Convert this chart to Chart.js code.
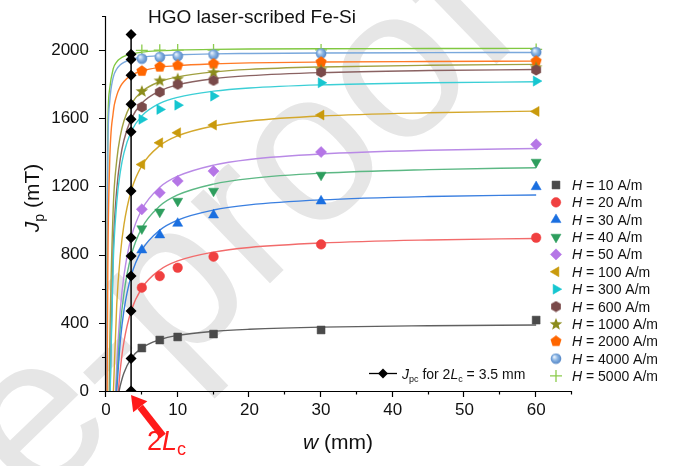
<!DOCTYPE html>
<html>
<head>
<meta charset="utf-8">
<script src="https://cdn.jsdelivr.net/npm/chart.js@4.4.0/dist/chart.umd.min.js"></script>
<style>
  html, body { margin: 0; padding: 0; background: #fff; }
  canvas { display: block; }
</style>
</head>
<body>
<canvas id="jpChart" width="682" height="466"></canvas>
<script>
// --- DATA ---
const fieldLabels = ['10', '20', '30', '40', '50', '100', '300', '600', '1000', '2000', '4000', '5000'];
const markerW = [5, 7.5, 10, 15, 30, 60];

const jpH10   = [252, 299, 317, 334, 358, 416];
const jpH20   = [606, 674, 723, 788, 860, 899];
const jpH30   = [827, 915, 983, 1032, 1114, 1198];
const jpH40   = [952, 1050, 1114, 1173, 1267, 1343];
const jpH50   = [1066, 1163, 1232, 1290, 1402, 1447];
const jpH100  = [1329, 1456, 1515, 1560, 1619, 1640];
const jpH300  = [1594, 1652, 1677, 1730, 1808, 1818];
const jpH600  = [1666, 1754, 1799, 1822, 1871, 1883];
const jpH1000 = [1760, 1822, 1833, 1871, 1886, 1900];
const jpH2000 = [1877, 1902, 1910, 1920, 1930, 1935];
const jpH4000 = [1950, 1959, 1965, 1974, 1980, 1988];
const jpH5000 = [1998, 1999, 2000, 2000, 2001, 2004];

// fitted curves, sampled at fitW (null = below zero), each starts at its zero crossing
const fitW = [0.25, 0.5, 1, 1.5, 2, 2.5, 3.5, 5, 7.5, 10, 15, 20, 30, 45, 60];
const fitZero = [1.83, 1.72, 1.5, 1.43, 1.34, 1.04, 0.59, 0.57, 0.45, 0.16, 0.075, 0.06];
const fitH10   = [null, null, null, null, 33, 106, 190, 253, 301, 326, 350, 362, 375, 383, 387];
const fitH20   = [null, null, null, null, 129, 288, 469, 604, 710, 763, 815, 842, 868, 886, 895];
const fitH30   = [null, null, null, null, 295, 472, 674, 826, 944, 1003, 1062, 1092, 1121, 1141, 1150];
const fitH40   = [null, null, null, 59, 379, 572, 792, 957, 1085, 1150, 1214, 1246, 1278, 1299, 1310];
const fitH50   = [null, null, null, 156, 481, 676, 899, 1065, 1195, 1260, 1325, 1358, 1390, 1412, 1423];
const fitH100  = [null, null, null, 509, 799, 974, 1173, 1322, 1439, 1497, 1555, 1584, 1613, 1632, 1642];
const fitH300  = [null, null, 743, 1106, 1287, 1396, 1521, 1614, 1687, 1723, 1759, 1778, 1796, 1808, 1814];
const fitH600  = [null, null, 822, 1183, 1363, 1471, 1595, 1688, 1760, 1796, 1832, 1850, 1868, 1880, 1886];
const fitH1000 = [null, 198, 1064, 1353, 1497, 1584, 1683, 1757, 1815, 1843, 1872, 1887, 1901, 1911, 1916];
const fitH2000 = [704, 1322, 1631, 1734, 1786, 1816, 1852, 1878, 1899, 1909, 1919, 1925, 1930, 1933, 1935];
const fitH4000 = [1392, 1690, 1839, 1889, 1914, 1928, 1945, 1958, 1968, 1973, 1978, 1980, 1983, 1985, 1986];
const fitH5000 = [1524, 1768, 1890, 1931, 1951, 1963, 1977, 1988, 1996, 2000, 2004, 2006, 2008, 2009, 2010];

// J_pc at 2Lc = 3.5 mm
const jpcW = 3.5;
const jpcValues = [0, 190, 469, 674, 792, 899, 1173, 1521, 1595, 1683, 1852, 1945, 1975, 2092];

const xTicks = [0, 10, 20, 30, 40, 50, 60];
const yTicks = [0, 400, 800, 1200, 1600, 2000];

const seriesJp = [jpH10, jpH20, jpH30, jpH40, jpH50, jpH100, jpH300, jpH600, jpH1000, jpH2000, jpH4000, jpH5000];
const seriesFit = [fitH10, fitH20, fitH30, fitH40, fitH50, fitH100, fitH300, fitH600, fitH1000, fitH2000, fitH4000, fitH5000];

// --- STYLES ---
const FONT = '"Liberation Sans", Arial, Helvetica, sans-serif';
const markColors = ['#4a4a4a', '#f04040', '#1a6fe0', '#2e9e5e', '#b576e6', '#c99a0c',
                    '#16c6d0', '#7a4a4a', '#8c8c1c', '#ff6600', '#6a9fd8', '#8ccc4c'];
const lineColors = ['#606060', '#f26b6b', '#3a7fe0', '#5cb884', '#b98ae6', '#d4a82c',
                    '#3ccfd6', '#8a6262', '#a0a040', '#ff7a26', '#7aa8dc', '#80c840'];

function shapeCanvas(size, draw) {
    const c = document.createElement('canvas');
    c.width = c.height = size;
    draw(c.getContext('2d'), size / 2);
    return c;
}
function polygon(g, m, n, r, start) {
    g.beginPath();
    for (let i = 0; i < n; i++) {
        const a = start + i * 2 * Math.PI / n;
        g.lineTo(m + r * Math.cos(a), m + r * Math.sin(a));
    }
    g.closePath();
    g.fill();
}
const hexagon = shapeCanvas(12, (g, m) => { g.fillStyle = markColors[7]; polygon(g, m, 6, 5.6, Math.PI / 6); });
const pentagon = shapeCanvas(12, (g, m) => { g.fillStyle = markColors[9]; polygon(g, m, 5, 5.8, -Math.PI / 2); });
const star = shapeCanvas(14, (g, m) => {
    g.fillStyle = markColors[8];
    g.beginPath();
    for (let i = 0; i < 10; i++) {
        const a = -Math.PI / 2 + i * Math.PI / 5;
        const r = i % 2 ? 2.8 : 6.6;
        g.lineTo(m + r * Math.cos(a), m + r * Math.sin(a) + 0.5);
    }
    g.closePath();
    g.fill();
});
const sphere = shapeCanvas(12, (g, m) => {
    const grad = g.createRadialGradient(m - 1.8, m - 1.8, 0.5, m, m, 5.5);
    grad.addColorStop(0, '#e6f0fb');
    grad.addColorStop(0.45, '#8cb6e4');
    grad.addColorStop(1, '#4f82c4');
    g.fillStyle = grad;
    g.beginPath(); g.arc(m, m, 5.3, 0, Math.PI * 2); g.fill();
});

const markStyles = [
    { pointStyle: 'rect', rotation: 0, radius: 5.6 },
    { pointStyle: 'circle', rotation: 0, radius: 4.8 },
    { pointStyle: 'triangle', rotation: 0, radius: 5.8 },
    { pointStyle: 'triangle', rotation: 180, radius: 5.8 },
    { pointStyle: 'rectRot', rotation: 0, radius: 5.6 },
    { pointStyle: 'triangle', rotation: -90, radius: 5.8 },
    { pointStyle: 'triangle', rotation: 90, radius: 5.8 },
    { pointStyle: hexagon, rotation: 0, radius: 5.5 },
    { pointStyle: star, rotation: 0, radius: 6 },
    { pointStyle: pentagon, rotation: 0, radius: 5.5 },
    { pointStyle: sphere, rotation: 0, radius: 5.5 },
    { pointStyle: 'cross', rotation: 0, radius: 6 }
];

// --- DATASETS ---
const markerSets = seriesJp.map((vals, i) => ({
    label: 'H = ' + fieldLabels[i] + ' A/m',
    data: vals.map((v, k) => ({ x: markerW[k], y: v })),
    showLine: false,
    pointStyle: markStyles[i].pointStyle,
    pointRotation: markStyles[i].rotation,
    pointRadius: markStyles[i].radius,
    backgroundColor: markColors[i],
    borderColor: markColors[i],
    pointBorderWidth: i === 11 ? 1.3 : 0.5
}));

const fitSets = seriesFit.map((vals, i) => {
    const pts = [{ x: fitZero[i], y: 0 }];
    vals.forEach((v, k) => { if (v !== null) pts.push({ x: fitW[k], y: v }); });
    return {
        label: 'fit ' + fieldLabels[i],
        data: pts,
        showLine: true,
        pointRadius: 0,
        borderColor: lineColors[i],
        borderWidth: 1.4,
        cubicInterpolationMode: 'monotone'
    };
});

const jpcSet = {
    label: 'Jpc',
    data: jpcValues.map(v => ({ x: jpcW, y: v })),
    showLine: true,
    borderColor: '#000',
    borderWidth: 1.5,
    pointStyle: 'rectRot',
    pointRadius: 5.5,
    backgroundColor: '#000',
    pointBorderWidth: 0
};

// --- DRAW HELPERS ---
function richText(ctx, parts, x, y, align) {
    let w = 0;
    parts.forEach(p => { ctx.font = p[1]; w += ctx.measureText(p[0]).width; });
    let cx = align === 'center' ? x - w / 2 : x;
    parts.forEach(p => {
        ctx.font = p[1];
        ctx.fillText(p[0], cx, y + (p[2] || 0));
        cx += ctx.measureText(p[0]).width;
    });
}

const watermark = {
    id: 'watermark',
    beforeDraw(chart) {
        const ctx = chart.ctx;
        ctx.save();
        ctx.fillStyle = '#fff';
        ctx.fillRect(0, 0, chart.width, chart.height);
        const em = 215;
        ctx.font = em + 'px ' + FONT;
        ctx.fillStyle = '#e6e6e6';
        ctx.translate(315, 162);
        ctx.rotate(-44 * Math.PI / 180);
        const off = ctx.measureText('Journal Pre-pr').width + ctx.measureText('o').width / 2;
        ctx.textBaseline = 'alphabetic';
        ctx.fillText('Journal Pre-proof', -off, 0.26 * em);
        ctx.restore();
    }
};

const decorations = {
    id: 'decorations',
    afterDraw(chart) {
        const ctx = chart.ctx;
        const xs = chart.scales.x, ys = chart.scales.y;
        ctx.save();

        // axes + ticks
        ctx.strokeStyle = '#000';
        ctx.lineWidth = 1.2;
        ctx.beginPath();
        ctx.moveTo(xs.left - 0.5, ys.bottom + 0.5);
        ctx.lineTo(xs.right, ys.bottom + 0.5);
        ctx.moveTo(xs.left - 0.5, ys.top);
        ctx.lineTo(xs.left - 0.5, ys.bottom + 0.5);
        for (let v = 0; v <= xs.max; v += 5) {
            const px = Math.round(xs.getPixelForValue(v)) - 0.5;
            const len = xTicks.includes(v) ? 6 : 3.5;
            ctx.moveTo(px, ys.bottom); ctx.lineTo(px, ys.bottom + len);
        }
        for (let v = 0; v <= ys.max; v += 200) {
            const py = Math.round(ys.getPixelForValue(v)) + 0.5;
            const len = yTicks.includes(v) ? 7 : 4;
            ctx.moveTo(xs.left, py); ctx.lineTo(xs.left - len, py);
        }
        ctx.stroke();

        ctx.fillStyle = '#111';
        ctx.textBaseline = 'alphabetic';
        // title inside plot
        richText(ctx, [['HGO laser-scribed Fe-Si', '19px ' + FONT]], 252, 23, 'center');
        // x-axis title
        richText(ctx, [['w', 'italic 21px ' + FONT], [' (mm)', '21px ' + FONT]], 338, 449, 'center');
        // y-axis title
        ctx.save();
        ctx.translate(39, 198);
        ctx.rotate(-Math.PI / 2);
        richText(ctx, [['J', 'italic 21px ' + FONT], ['p', '14px ' + FONT, 5], [' (mT)', '21px ' + FONT]], 0, 0, 'center');
        ctx.restore();

        // legend of field values
        const rowH = 17.36;
        markerSets.forEach((ds, i) => {
            const y = 185 + i * rowH;
            ctx.fillStyle = markColors[i];
            ctx.strokeStyle = markColors[i];
            ctx.lineWidth = i === 11 ? 1.3 : 0.5;
            Chart.helpers.drawPoint(ctx, {
                pointStyle: markStyles[i].pointStyle,
                rotation: markStyles[i].rotation,
                radius: markStyles[i].radius,
                borderWidth: ctx.lineWidth
            }, 556, y);
            ctx.fillStyle = '#111';
            richText(ctx, [['H', 'italic 14px ' + FONT], [' = ' + fieldLabels[i] + ' A/m', '14px ' + FONT]], 572, y + 5);
        });

        // J_pc legend entry
        ctx.strokeStyle = '#000';
        ctx.lineWidth = 1.3;
        ctx.beginPath(); ctx.moveTo(369, 373.5); ctx.lineTo(397, 373.5); ctx.stroke();
        ctx.fillStyle = '#000';
        Chart.helpers.drawPoint(ctx, { pointStyle: 'rectRot', rotation: 0, radius: 5, borderWidth: 0 }, 383, 373.5);
        ctx.fillStyle = '#111';
        richText(ctx, [
            ['J', 'italic 14px ' + FONT], ['pc', '9px ' + FONT, 3],
            [' for 2', '14px ' + FONT], ['L', 'italic 14px ' + FONT], ['c', '9px ' + FONT, 3],
            [' = 3.5 mm', '14px ' + FONT]
        ], 402, 378.5);

        // red arrow pointing at 2Lc
        const red = '#ff1a1a';
        const tip = { x: 131, y: 395 }, tail = { x: 163, y: 436 };
        const ang = Math.atan2(tip.y - tail.y, tip.x - tail.x);
        const headLen = 15, headW = 9;
        const bx = tip.x - headLen * Math.cos(ang), by = tip.y - headLen * Math.sin(ang);
        ctx.strokeStyle = red;
        ctx.lineWidth = 7;
        ctx.beginPath(); ctx.moveTo(tail.x, tail.y); ctx.lineTo(bx, by); ctx.stroke();
        ctx.fillStyle = red;
        ctx.beginPath();
        ctx.moveTo(tip.x, tip.y);
        ctx.lineTo(bx + headW * Math.sin(ang), by - headW * Math.cos(ang));
        ctx.lineTo(bx - headW * Math.sin(ang), by + headW * Math.cos(ang));
        ctx.closePath();
        ctx.fill();
        richText(ctx, [['2', '27px ' + FONT], ['L', 'italic 27px ' + FONT], ['c', '18px ' + FONT, 5]], 147, 450);

        ctx.restore();
    }
};

// --- CHART ---
new Chart(document.getElementById('jpChart'), {
    type: 'scatter',
    data: { datasets: [...markerSets, jpcSet, ...fitSets] },
    options: {
        responsive: false,
        animation: false,
        devicePixelRatio: 1,
        layout: { padding: { left: 0, right: 110, top: 16, bottom: 0 } },
        plugins: { legend: { display: false }, tooltip: { enabled: false } },
        scales: {
            x: {
                type: 'linear', min: 0, max: 65,
                afterFit(s) { s.height = 75; s.paddingLeft = 0; s.paddingRight = 0; },
                grid: { display: false, drawTicks: false },
                border: { display: false },
                ticks: {
                    stepSize: 10, padding: 9, maxRotation: 0, autoSkip: false,
                    color: '#111', font: { size: 17, family: FONT },
                    callback: v => xTicks.includes(v) ? v : ''
                }
            },
            y: {
                type: 'linear', min: 0, max: 2200,
                afterFit(s) { s.width = 106; s.paddingTop = 0; s.paddingBottom = 0; },
                grid: { display: false, drawTicks: false },
                border: { display: false },
                ticks: {
                    stepSize: 400, padding: 17, autoSkip: false,
                    color: '#111', font: { size: 17, family: FONT },
                    callback: v => yTicks.includes(v) ? v : ''
                }
            }
        }
    },
    plugins: [watermark, decorations]
});
</script>
</body>
</html>
